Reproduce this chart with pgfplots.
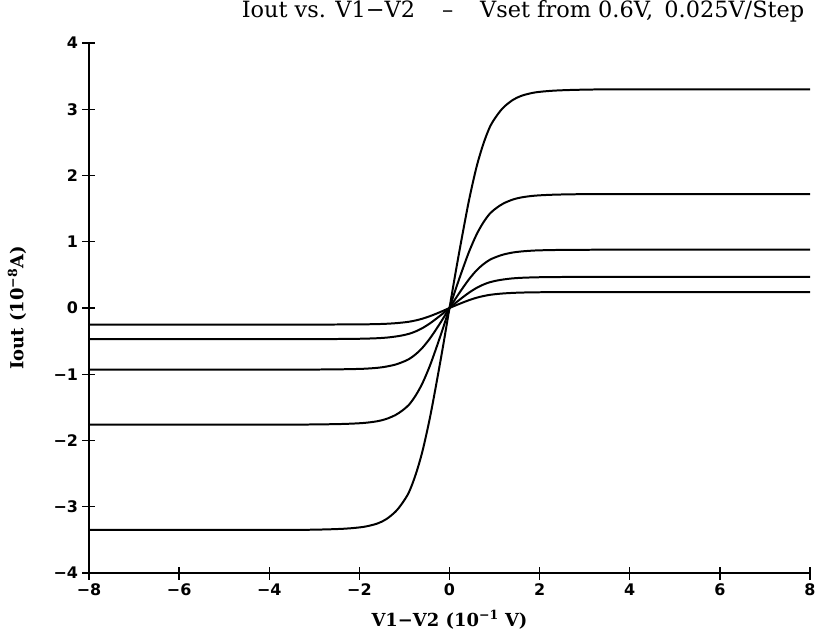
\documentclass[border=0pt]{standalone}
\usepackage{fontspec}
\setmainfont{DejaVu Serif}
\newfontfamily\tickfont{DejaVu Sans}
\usepackage{pgfplots}
\usepackage{pgfplotstable}
\pgfplotsset{compat=1.18}
\pgfplotstableread{
x a b c d e
-8 -3.35 -1.76 -0.93 -0.47 -0.25
-5 -3.35 -1.76 -0.93 -0.47 -0.25
-3.5 -3.35 -1.76 -0.93 -0.47 -0.25
-2.8 -3.343 -1.756 -0.928 -0.469 -0.2495
-2.3 -3.330 -1.749 -0.924 -0.467 -0.2485
-1.9 -3.303 -1.735 -0.917 -0.463 -0.2465
-1.6 -3.253 -1.709 -0.903 -0.456 -0.243
-1.4 -3.186 -1.674 -0.884 -0.447 -0.238
-1.2 -3.075 -1.616 -0.854 -0.431 -0.2295
-1.05 -2.948 -1.549 -0.818 -0.414 -0.220
-0.9 -2.781 -1.461 -0.772 -0.390 -0.2075
-0.75 -2.513 -1.320 -0.698 -0.353 -0.1875
-0.6 -2.161 -1.135 -0.600 -0.303 -0.161
-0.44 -1.675 -0.880 -0.465 -0.235 -0.125
-0.3 -1.173 -0.616 -0.326 -0.165 -0.0875
-0.15 -0.603 -0.317 -0.167 -0.085 -0.045
0 0 0 0 0 0
0.15 0.594 0.310 0.158 0.085 0.043
0.3 1.155 0.602 0.308 0.165 0.084
0.44 1.65 0.86 0.44 0.235 0.12
0.6 2.129 1.109 0.568 0.303 0.155
0.75 2.475 1.290 0.660 0.353 0.180
0.9 2.739 1.428 0.730 0.390 0.199
1.05 2.904 1.514 0.774 0.414 0.211
1.2 3.029 1.579 0.808 0.431 0.220
1.4 3.138 1.636 0.837 0.447 0.228
1.6 3.204 1.670 0.854 0.456 0.233
1.9 3.254 1.696 0.868 0.463 0.237
2.3 3.280 1.710 0.875 0.467 0.239
2.8 3.293 1.717 0.878 0.469 0.240
3.5 3.30 1.72 0.88 0.47 0.24
5 3.30 1.72 0.88 0.47 0.24
8 3.30 1.72 0.88 0.47 0.24
}\curves
\begin{document}
\begin{tikzpicture}
\useasboundingbox (-89bp,-61bp) rectangle (735bp,573bp);
\begin{axis}[
  scale only axis,
  width=721bp, height=530bp,
  xmin=-8, xmax=8, ymin=-4, ymax=4,
  axis lines=left,
  axis line style={line width=1.3pt, -},
  xtick={-8,-6,-4,-2,0,2,4,6,8},
  xticklabels={−8,−6,−4,−2,0,2,4,6,8},
  ytick={-4,-3,-2,-1,0,1,2,3,4},
  yticklabels={−4,−3,−2,−1,0,1,2,3,4},
  tick align=center,
  major tick length=13bp,
  tick style={line width=1.3pt, black},
  ticklabel style={font=\tickfont\bfseries\fontsize{16}{18}\selectfont},
  xticklabel style={yshift=-1bp},
  yticklabel style={xshift=-1bp},
  xlabel={V1−V2 (10\textsuperscript{−1} V)},
  ylabel={Iout (10\textsuperscript{−8}A)},
  label style={font=\bfseries\fontsize{18}{20}\selectfont},
  xlabel style={at={(axis description cs:0.5,-0.088)}, anchor=center},
  ylabel style={at={(axis description cs:-0.1,0.5)}, anchor=center, rotate=0},
  title={Iout vs. V1−V2\hspace{1.2em}–\hspace{1.2em}Vset from 0.6V,\hspace{0.5em}0.025V/Step},
  title style={font=\fontsize{22.5}{25}\selectfont, at={(axis description cs:0.602,1)}, anchor=base, yshift=20bp},
  clip=false,
]
\addplot[black, line width=2pt, smooth, tension=0.5] table[x=x, y=a] {\curves};
\addplot[black, line width=2pt, smooth, tension=0.5] table[x=x, y=b] {\curves};
\addplot[black, line width=2pt, smooth, tension=0.5] table[x=x, y=c] {\curves};
\addplot[black, line width=2pt, smooth, tension=0.5] table[x=x, y=d] {\curves};
\addplot[black, line width=2pt, smooth, tension=0.5] table[x=x, y=e] {\curves};
\end{axis}
\end{tikzpicture}
\end{document}
